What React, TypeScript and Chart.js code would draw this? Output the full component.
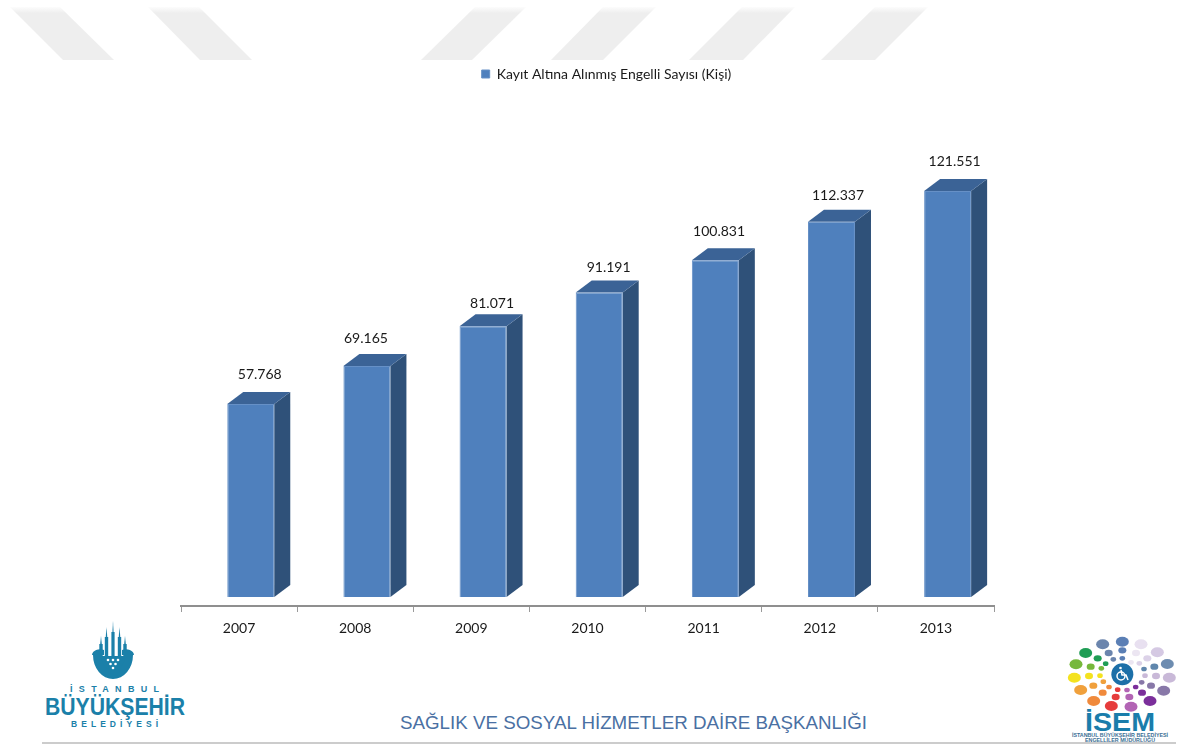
import React, { useEffect, useRef } from "react";
import { Chart, registerables } from "chart.js";

Chart.register(...registerables);

const years = ["2007", "2008", "2009", "2010", "2011", "2012", "2013"];
const registered = [57768, 69165, 81071, 91191, 100831, 112337, 121551];
const seriesName = "Kayıt Altına Alınmış Engelli Sayısı (Kişi)";
const footerTitle = "SAĞLIK VE SOSYAL HİZMETLER DAİRE BAŞKANLIĞI";

const FRONT = "#4F80BD";
const SIDE = "#2F5179";
const TOP = "#3B6396";
const LABEL_FONT = "Lato";

// offset of each value label from its bar's top centre
const labelNudge = [9, -1, 9, 9.4, 3.7, 6.5, 7];
const labelLift = [30, 28, 23, 25, 29, 26, 30];

const stripes = [
  [10, 60, 114, 63],
  [148, 199, 252, 200],
  [475, 526, 472, 421],
  [603, 656, 603, 551],
  [742, 795, 743, 689],
  [875, 928, 875, 821],
];

const logoOuter = [
  [158, 58, "#6b85ad"], [217, 50, "#5b7fb5"], [273, 58, "#e8e0f0"], [322, 82, "#d5c9e3"], [352, 117, "#6d8cb0"],
  [358, 158, "#c9b9d8"], [341, 197, "#8878a8"], [300, 228, "#7b2f9b"], [243, 245, "#b264b4"], [184, 243, "#e63c3c"],
  [131, 228, "#f08a3c"], [92, 195, "#f0a03c"], [73, 158, "#f4e21f"], [78, 118, "#76b83c"], [107, 84, "#1f9d55"],
];
const logoMiddle = [
  [176, 84, "#6b85ad"], [217, 76, "#5b7fb5"], [258, 84, "#ece6f2"], [292, 100, "#dcd2e8"], [313, 125, "#5f86ac"],
  [318, 153, "#c9b9d8"], [303, 182, "#8878a8"], [276, 203, "#7b2f9b"], [238, 216, "#b264b4"], [197, 216, "#e63c3c"],
  [158, 203, "#f08a3c"], [130, 182, "#f0a03c"], [117, 153, "#f4e21f"], [122, 125, "#76b83c"], [143, 100, "#1f9d55"],
];
const logoInner = [
  [190, 103, "#6b85ad"], [217, 100, "#5b7fb5"], [243, 112, "#ece6f2"], [268, 115, "#dcd2e8"], [282, 132, "#5f86ac"],
  [285, 152, "#c9b9d8"], [275, 172, "#8878a8"], [257, 186, "#7b2f9b"], [231, 195, "#b264b4"], [203, 194, "#e63c3c"],
  [177, 186, "#f08a3c"], [160, 170, "#f0a03c"], [150, 152, "#f4e21f"], [154, 130, "#76b83c"], [167, 116, "#1f9d55"],
];

const formatValue = (v: number) => String(v).replace(/\B(?=(\d{3})+$)/g, ".");

const bars3d = {
  id: "bars3d",
  beforeDatasetsDraw(chart: any) {
    const ctx = chart.ctx;
    ctx.save();
    ctx.translate(11.7, 0);
    const dx = 16;
    const dy = 12;
    chart.getDatasetMeta(0).data.forEach((bar: any) => {
      const { x, y, base, width } = bar.getProps(["x", "y", "base", "width"], true);
      const l = x - width / 2;
      const r = x + width / 2;
      ctx.fillStyle = SIDE;
      ctx.beginPath();
      ctx.moveTo(r, y);
      ctx.lineTo(r + dx, y - dy);
      ctx.lineTo(r + dx, base - dy);
      ctx.lineTo(r, base);
      ctx.closePath();
      ctx.fill();
      ctx.fillStyle = TOP;
      ctx.beginPath();
      ctx.moveTo(l, y);
      ctx.lineTo(l + dx, y - dy);
      ctx.lineTo(r + dx, y - dy);
      ctx.lineTo(r, y);
      ctx.closePath();
      ctx.fill();
    });
  },
  afterDatasetsDraw(chart: any) {
    const ctx = chart.ctx;
    ctx.font = `14px ${LABEL_FONT}`;
    ctx.fillStyle = "#1a1a1a";
    ctx.textAlign = "center";
    ctx.textBaseline = "middle";
    chart.getDatasetMeta(0).data.forEach((bar: any, i: number) => {
      const { x, y } = bar.getProps(["x", "y"], true);
      ctx.fillText(formatValue(registered[i]), x + labelNudge[i], y - labelLift[i]);
    });
    ctx.restore();
  },
};

const moveLegend = {
  id: "moveLegend",
  afterLayout(chart: any) {
    chart.legend.left += 19;
    chart.legend.right += 19;
  },
};

function Backdrop() {
  const toX = (z: number) => 1050 + z / 3;
  const toY = (z: number) => 625 + z / 3;
  const blue = "#1b80a9";
  return (
    <svg width={1187} height={747} style={{ position: "absolute", left: 0, top: 0 }}>
      <defs>
        <linearGradient id="stripeFade" gradientUnits="userSpaceOnUse" x1={0} y1={6} x2={0} y2={13}>
          <stop offset="0" stopColor="#ffffff" />
          <stop offset="1" stopColor="#eeeeee" />
        </linearGradient>
      </defs>
      {stripes.map((s, i) => (
        <polygon key={i} points={`${s[0]},7 ${s[1]},7 ${s[2]},60 ${s[3]},60`} fill="url(#stripeFade)" />
      ))}
      <line x1={42} y1={743} x2={1176} y2={743} stroke="#cccccc" strokeWidth={2} />
      <text x={400} y={729} fontFamily="Liberation Sans" fontSize={18} fill="#4a70a3" textLength={467} lengthAdjust="spacingAndGlyphs">
        {footerTitle}
      </text>

      {/* Istanbul municipality logo */}
      <g fill={blue}>
        <polygon points="112,640 113,621 114,640" />
        <rect x={111.4} y={632} width={3.2} height={26} />
        <polygon points="105.5,640 106.5,627 107.5,640" />
        <rect x={104.8} y={637} width={3.4} height={20} />
        <polygon points="118.5,640 119.5,627 120.5,640" />
        <rect x={117.8} y={637} width={3.4} height={20} />
        <polygon points="100,646 101,636 102,646" />
        <rect x={99.3} y={644} width={3.4} height={12} />
        <polygon points="124,646 125,636 126,646" />
        <rect x={123.3} y={644} width={3.4} height={12} />
        <path d="M93,655 A20,24 0 0 0 133,655 L124,655 A11,14 0 0 1 102,655 Z" />
        <path d="M92,655 A8,6 0 0 1 104,650 L104,655 Z" />
        <path d="M134,655 A8,6 0 0 0 122,650 L122,655 Z" />
        <path d="M101,656 A12,14 0 0 0 125,656 Z" />
      </g>
      <g fill="#ffffff">
        <circle cx={108} cy={660} r={1.3} />
        <circle cx={113} cy={660} r={1.3} />
        <circle cx={118} cy={660} r={1.3} />
        <circle cx={110.5} cy={664} r={1.3} />
        <circle cx={115.5} cy={664} r={1.3} />
        <circle cx={113} cy={668} r={1.3} />
      </g>
      <g fontFamily="Liberation Sans" fontWeight="bold" fill={blue}>
        <text x={70} y={692} fontSize={9} textLength={89}>İSTANBUL</text>
        <text x={45} y={715} fontSize={23} textLength={140} lengthAdjust="spacingAndGlyphs">BÜYÜKŞEHİR</text>
        <text x={71} y={727} fontSize={8.5} textLength={87}>BELEDİYESİ</text>
      </g>

      {/* ISEM logo */}
      {logoOuter.map((d, i) => (
        <ellipse key={`o${i}`} cx={toX(d[0] as number)} cy={toY(d[1] as number)} rx={6.5} ry={5} fill={d[2] as string} />
      ))}
      {logoMiddle.map((d, i) => (
        <ellipse key={`m${i}`} cx={toX(d[0] as number)} cy={toY(d[1] as number)} rx={4} ry={3.2} fill={d[2] as string} />
      ))}
      {logoInner.map((d, i) => (
        <ellipse key={`n${i}`} cx={toX(d[0] as number)} cy={toY(d[1] as number)} rx={2.8} ry={2.3} fill={d[2] as string} />
      ))}
      <circle cx={toX(217)} cy={toY(148)} r={11} fill="#1c6fa8" />
      <g fill="none" stroke="#ffffff" strokeWidth={1.5}>
        <circle cx={1121} cy={676} r={4} />
        <path d="M1121,670 L1122,675 L1126,675 L1128,680" />
      </g>
      <circle cx={1120.5} cy={668} r={1.3} fill="#ffffff" />
      <g fontFamily="Liberation Sans" fontWeight="bold" fill="#1a7dab" textAnchor="middle">
        <text x={1120} y={731} fontSize={25} textLength={70} lengthAdjust="spacingAndGlyphs">İSEM</text>
        <text x={1120} y={737} fontSize={5} textLength={96} lengthAdjust="spacingAndGlyphs" fill="#3b6f95">İSTANBUL BÜYÜKŞEHİR BELEDİYESİ</text>
        <text x={1120} y={742} fontSize={5} textLength={70} lengthAdjust="spacingAndGlyphs" fill="#3b6f95">ENGELLİLER MÜDÜRLÜĞÜ</text>
      </g>
    </svg>
  );
}

export default function App() {
  const ref = useRef<HTMLCanvasElement>(null);
  useEffect(() => {
    const chart = new Chart(ref.current!, {
      type: "bar",
      data: {
        labels: years,
        datasets: [
          {
            label: seriesName,
            data: registered,
            base: 0,
            backgroundColor: FRONT,
            borderColor: "#6690C6",
            borderWidth: 1,
            categoryPercentage: 1,
            barPercentage: 47 / 116.14,
          } as any,
        ],
      },
      options: {
        responsive: false,
        animation: false,
        layout: { padding: { left: 181, right: 193, top: 57, bottom: 0 } },
        events: [],
        plugins: {
          tooltip: { enabled: false },
          title: { display: false },
          legend: {
            display: true,
            position: "top",
            labels: {
              boxWidth: 8,
              boxHeight: 8,
              color: "#1a1a1a",
              padding: 10,
              font: { family: LABEL_FONT, size: 14 },
            },
          },
        },
        scales: {
          x: {
            grid: { offset: true, drawOnChartArea: false, drawTicks: true, tickLength: 6, color: "#9a9a9a", lineWidth: 1 },
            border: { display: true, color: "#8f8f8f", width: 2 },
            ticks: { color: "#1a1a1a", padding: 8, font: { family: LABEL_FONT, size: 14 }, maxRotation: 0 },
            afterFit(scale: any) {
              scale.height = 141;
            },
          },
          y: { display: false, min: -2695, max: 151500 },
        },
      },
      plugins: [bars3d, moveLegend],
    } as any);
    return () => chart.destroy();
  }, []);
  return (
    <div style={{ position: "absolute", left: 0, top: 0, width: 1187, height: 747, overflow: "hidden", background: "#fff" }}>
      <Backdrop />
      <canvas ref={ref} width={1187} height={747} style={{ position: "absolute", left: 0, top: 0 }} />
    </div>
  );
}
